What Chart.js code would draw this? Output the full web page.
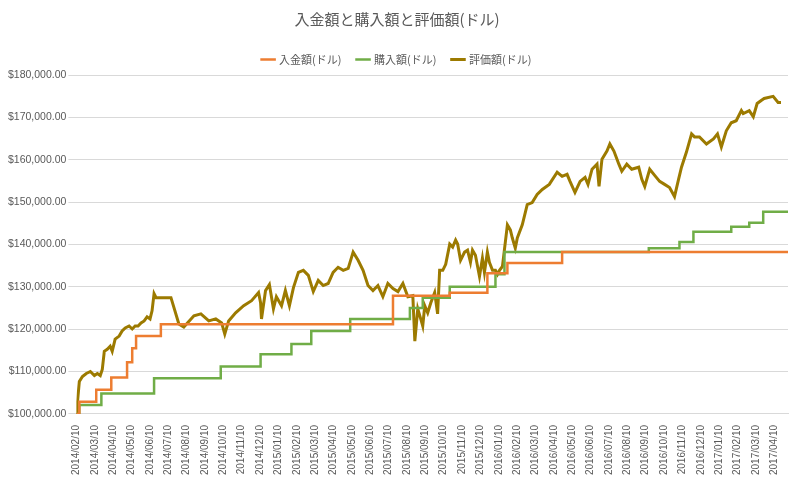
<!DOCTYPE html>
<html><head><meta charset="utf-8">
<script src="https://cdn.jsdelivr.net/npm/chart.js@4"></script>
<style>html,body{margin:0;background:#fff}#w{width:800px;height:480px}</style>
</head><body><div id="w"><canvas id="c"></canvas></div>
<script>
const monthLabels = [];
for (let i = 0; i <= 38; i++) { const y = 2014 + Math.floor((1 + i) / 12); const m = (1 + i) % 12 + 1; monthLabels.push(y + '/' + String(m).padStart(2, '0') + '/10'); }

// x = months since 2014/02/10
const depositX = [0,0.16,1.08,1.90,2.76,3.04,3.25,4.60,17.24,20.33,22.38,23.47,26.45,38.75];
const depositY = [100000,102900,105700,108600,112200,115500,118400,121200,127900,128600,133200,135600,138200,138200];
const purchaseX = [0,0.16,1.36,4.23,7.86,10.03,11.71,12.79,14.91,18.16,18.86,20.33,22.82,23.31,31.17,32.84,33.60,35.66,36.64,37.40,38.75];
const purchaseY = [100000,102100,104800,108400,111200,114100,116500,119600,122400,125000,127400,130000,133000,138200,139100,140600,143000,144200,145100,147700,147700];
const valueX = [0,0.16,0.33,0.54,0.76,0.98,1.14,1.30,1.41,1.52,1.68,1.84,1.95,2.11,2.33,2.49,2.66,2.87,3.04,3.20,3.36,3.52,3.69,3.85,4.01,4.12,4.23,4.34,4.77,5.15,5.58,5.85,6.40,6.78,7.21,7.59,7.91,8.08,8.29,8.67,9.11,9.54,9.92,10.03,10.08,10.30,10.51,10.73,10.89,11.17,11.38,11.60,11.82,12.09,12.36,12.63,12.90,13.17,13.44,13.71,13.98,14.25,14.53,14.80,15.07,15.34,15.61,15.88,16.15,16.42,16.69,16.96,17.24,17.51,17.78,18.05,18.32,18.43,18.59,18.75,18.86,18.97,19.13,19.30,19.51,19.67,19.78,19.95,20.11,20.33,20.49,20.65,20.76,20.92,21.14,21.30,21.46,21.57,21.73,21.95,22.11,22.22,22.38,22.49,22.66,22.82,22.93,23.04,23.20,23.47,23.63,23.74,23.90,24.01,24.28,24.55,24.82,25.09,25.37,25.75,26.18,26.45,26.72,26.88,27.15,27.43,27.70,27.86,28.08,28.35,28.46,28.62,28.89,29.05,29.27,29.54,29.70,29.97,30.24,30.62,30.79,30.95,31.22,31.49,31.76,32.03,32.30,32.57,32.79,32.95,33.22,33.50,33.66,33.93,34.31,34.69,34.91,35.12,35.39,35.66,35.93,36.21,36.31,36.64,36.86,37.07,37.29,37.45,37.94,38.21,38.37,38.54,38.75];
const valueY = [100000,107640,108830,109550,110020,109070,109550,109070,110500,114800,115270,115990,114800,117660,118380,119570,120290,120760,120050,120760,120760,121480,121960,122910,122430,124340,128400,127450,127450,127450,121240,120520,123150,123630,121960,122430,121480,118850,121960,123870,125540,126730,128640,126250,122430,129120,130550,124820,127680,125540,129120,125540,129830,133410,133890,132700,128880,131500,130310,130790,133410,134610,133890,134370,138190,136280,133890,130310,129120,130310,127680,130790,129590,128880,130790,127680,127920,117180,124820,122430,120760,125540,123870,126250,128640,123630,133890,133890,135320,140090,139380,141050,140090,136280,138190,138660,135800,138660,137470,132460,136750,133410,138190,135800,133890,133890,132940,133890,134840,144630,143440,141530,139140,141530,144630,149400,149880,151790,152980,154180,157040,156080,156560,154890,152270,154890,155850,154180,157760,158950,153700,160140,162050,163720,162050,158950,157280,158950,157760,158230,155370,153700,157760,156320,154890,154180,153460,151310,155370,158230,161810,166110,165390,165390,163720,164920,166110,163010,166830,168730,169210,171600,170880,171600,170160,173270,173990,174470,174950,173510,173510];

const toPts = (xs, ys) => xs.map((x, i) => ({x, y: ys[i]}));
const ticksArr = monthLabels.map((_, i) => ({value: i}));

new Chart(document.getElementById('c'), {
  type: 'line',
  data: { datasets: [
    { label: '入金額(ドル)', data: toPts(depositX, depositY), borderColor: '#ED7D31', backgroundColor: '#ED7D31', borderWidth: 2.5, pointRadius: 0, stepped: 'before' },
    { label: '購入額(ドル)', data: toPts(purchaseX, purchaseY), borderColor: '#70AD47', backgroundColor: '#70AD47', borderWidth: 2.5, pointRadius: 0, stepped: 'before' },
    { label: '評価額(ドル)', data: toPts(valueX, valueY), borderColor: '#9C7A00', backgroundColor: '#9C7A00', borderWidth: 3, pointRadius: 0, tension: 0 }
  ]},
  options: {
    responsive: true, maintainAspectRatio: false, animation: false,
    layout: { padding: { left: 6, right: 12, top: 4, bottom: 2 } },
    plugins: {
      title: { display: true, text: '入金額と購入額と評価額(ドル)', color: '#595959', font: { size: 15, family: 'Noto Sans CJK JP', weight: 'normal' }, padding: { top: 6, bottom: 10 } },
      legend: { labels: { usePointStyle: true, pointStyle: 'line', boxWidth: 28, color: '#595959', font: { size: 11, family: 'Noto Sans CJK JP' }, padding: 16 } },
      tooltip: { enabled: false }
    },
    scales: {
      x: { type: 'linear', min: 0, max: 38.75,
        afterBuildTicks: s => { s.ticks = ticksArr.map(t => ({value: t.value})); },
        grid: { display: false }, border: { color: '#d9d9d9' },
        ticks: { autoSkip: false, maxRotation: 90, minRotation: 90, color: '#595959', font: { size: 10, family: 'Liberation Sans' }, callback: v => monthLabels[v] }
      },
      y: { min: 100000, max: 180000,
        grid: { color: '#d9d9d9' }, border: { display: false },
        ticks: { stepSize: 10000, color: '#595959', padding: 2, font: { size: 10.5, family: 'Liberation Sans' }, callback: v => '$' + v.toLocaleString('en-US', {minimumFractionDigits: 2}) }
      }
    }
  }
});
</script></body></html>
